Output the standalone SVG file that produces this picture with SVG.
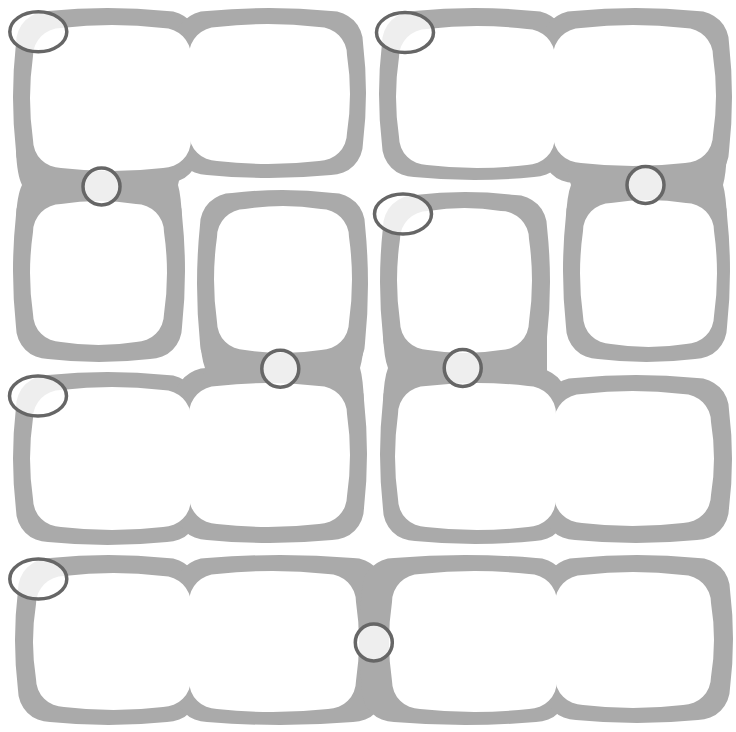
<svg xmlns="http://www.w3.org/2000/svg" width="736" height="732" viewBox="0 0 736 732">
<style>
.wall{fill:#aaaaaa}
.room{fill:#ffffff}
.mark{fill:#ffffff;fill-opacity:0.8;stroke:#666666;stroke-width:3.5}
</style>
<rect width="736" height="732" fill="#ffffff"/>
<g id="piece1">
<path class="wall" transform="translate(16,11)" d="M32 0q59.5 -6 119 0a32 32 0 0 1 32 32q6 54 0 108a32 32 0 0 1 -32 32q-59.5 6 -119 0a32 32 0 0 1 -32 -32q-6 -54 0 -108a32 32 0 0 1 32 -32z"/>
<path class="wall" transform="translate(175,11)" d="M32 0q62 -6 124 0a32 32 0 0 1 32 32q6 50 0 100a32 32 0 0 1 -32 32q-62 6 -124 0a32 32 0 0 1 -32 -32q-6 -50 0 -100a32 32 0 0 1 32 -32z"/>
<path class="wall" transform="translate(16,183)" d="M32 0q51 -6 102 0a32 32 0 0 1 32 32q6 56 0 112a32 32 0 0 1 -32 32q-51 6 -102 0a32 32 0 0 1 -32 -32q-6 -56 0 -112a32 32 0 0 1 32 -32z"/>
<path class="wall" d="M16 151Q17 175 22 185Q17 195 16 219L182 219Q181 195 178 185Q181 175 182 151Z"/>
<path class="room" transform="translate(33,28)" d="M28 0q51 -6 102 0a28 28 0 0 1 28 28q6 42 0 84a28 28 0 0 1 -28 28q-51 6 -102 0a28 28 0 0 1 -28 -28q-6 -42 0 -84a28 28 0 0 1 28 -28z"/>
<path class="room" transform="translate(189,27)" d="M28 0q51 -6 102 0a28 28 0 0 1 28 28q6 39 0 78a28 28 0 0 1 -28 28q-51 6 -102 0a28 28 0 0 1 -28 -28q-6 -39 0 -78a28 28 0 0 1 28 -28z"/>
<path class="room" transform="translate(33,204)" d="M28 0q37.5 -6 75 0a28 28 0 0 1 28 28q6 41 0 82a28 28 0 0 1 -28 28q-37.5 6 -75 0a28 28 0 0 1 -28 -28q-6 -41 0 -82a28 28 0 0 1 28 -28z"/>
</g>
<g id="piece2">
<path class="wall" transform="translate(382,11)" d="M32 0q60 -6 120 0a32 32 0 0 1 32 32q6 51 0 102a32 32 0 0 1 -32 32q-60 6 -120 0a32 32 0 0 1 -32 -32q-6 -51 0 -102a32 32 0 0 1 32 -32z"/>
<path class="wall" transform="translate(542,11)" d="M32 0q61.5 -6 123 0a32 32 0 0 1 32 32q6 54 0 108a32 32 0 0 1 -32 32q-61.5 6 -123 0a32 32 0 0 1 -32 -32q-6 -54 0 -108a32 32 0 0 1 32 -32z"/>
<path class="wall" transform="translate(566,183)" d="M32 0q48.5 -6 97 0a32 32 0 0 1 32 32q6 56 0 112a32 32 0 0 1 -32 32q-48.5 6 -97 0a32 32 0 0 1 -32 -32q-6 -56 0 -112a32 32 0 0 1 32 -32z"/>
<path class="wall" d="M566 151Q567 175 571 185Q567 195 566 219L727 219Q726 195 723 185Q726 175 727 151Z"/>
<path class="room" transform="translate(399,29)" d="M28 0q50 -6 100 0a28 28 0 0 1 28 28q6 40 0 80a28 28 0 0 1 -28 28q-50 6 -100 0a28 28 0 0 1 -28 -28q-6 -40 0 -80a28 28 0 0 1 28 -28z"/>
<path class="room" transform="translate(553,28)" d="M28 0q52 -6 104 0a28 28 0 0 1 28 28q6 39.5 0 79a28 28 0 0 1 -28 28q-52 6 -104 0a28 28 0 0 1 -28 -28q-6 -39.5 0 -79a28 28 0 0 1 28 -28z"/>
<path class="room" transform="translate(583,203)" d="M28 0q37.5 -6 75 0a28 28 0 0 1 28 28q6 42.5 0 85a28 28 0 0 1 -28 28q-37.5 6 -75 0a28 28 0 0 1 -28 -28q-6 -42.5 0 -85a28 28 0 0 1 28 -28z"/>
</g>
<g id="piece3">
<path class="wall" transform="translate(383,195)" d="M32 0q50 -6 100 0a32 32 0 0 1 32 32q6 55 0 110a32 32 0 0 1 -32 32q-50 6 -100 0a32 32 0 0 1 -32 -32q-6 -55 0 -110a32 32 0 0 1 32 -32z"/>
<path class="wall" transform="translate(383,368)" d="M32 0q60 -6 120 0a32 32 0 0 1 32 32q6 54.5 0 109a32 32 0 0 1 -32 32q-60 6 -120 0a32 32 0 0 1 -32 -32q-6 -54.5 0 -109a32 32 0 0 1 32 -32z"/>
<path class="wall" transform="translate(543,378)" d="M32 0q61 -6 122 0a32 32 0 0 1 32 32q6 49 0 98a32 32 0 0 1 -32 32q-61 6 -122 0a32 32 0 0 1 -32 -32q-6 -49 0 -98a32 32 0 0 1 32 -32z"/>
<path class="wall" d="M383 334Q384 358 388 368Q384 378 383 402L547 402L547 334Z"/>
<path class="room" transform="translate(400,211)" d="M28 0q36.5 -6 73 0a28 28 0 0 1 28 28q6 41.5 0 83a28 28 0 0 1 -28 28q-36.5 6 -73 0a28 28 0 0 1 -28 -28q-6 -41.5 0 -83a28 28 0 0 1 28 -28z"/>
<path class="room" transform="translate(398,386)" d="M28 0q51 -6 102 0a28 28 0 0 1 28 28q6 42.5 0 85a28 28 0 0 1 -28 28q-51 6 -102 0a28 28 0 0 1 -28 -28q-6 -42.5 0 -85a28 28 0 0 1 28 -28z"/>
<path class="room" transform="translate(554,394)" d="M28 0q50.5 -6 101 0a28 28 0 0 1 28 28q6 36.5 0 73a28 28 0 0 1 -28 28q-50.5 6 -101 0a28 28 0 0 1 -28 -28q-6 -36.5 0 -73a28 28 0 0 1 28 -28z"/>
</g>
<g id="piece4">
<path class="wall" transform="translate(200,193)" d="M32 0q50.5 -6 101 0a32 32 0 0 1 32 32q6 59 0 118a32 32 0 0 1 -32 32q-50.5 6 -101 0a32 32 0 0 1 -32 -32q-6 -59 0 -118a32 32 0 0 1 32 -32z"/>
<path class="wall" transform="translate(16,375)" d="M32 0q59.5 -6 119 0a32 32 0 0 1 32 32q6 51.5 0 103a32 32 0 0 1 -32 32q-59.5 6 -119 0a32 32 0 0 1 -32 -32q-6 -51.5 0 -103a32 32 0 0 1 32 -32z"/>
<path class="wall" transform="translate(175,368)" d="M32 0q62.5 -6 125 0a32 32 0 0 1 32 32q6 54 0 108a32 32 0 0 1 -32 32q-62.5 6 -125 0a32 32 0 0 1 -32 -32q-6 -54 0 -108a32 32 0 0 1 32 -32z"/>
<path class="wall" d="M200 334Q201 358 205 368Q201 378 200 402L364 402Q363 378 360 368Q363 358 365 334Z"/>
<path class="room" transform="translate(217,209)" d="M28 0q38 -6 76 0a28 28 0 0 1 28 28q6 42.5 0 85a28 28 0 0 1 -28 28q-38 6 -76 0a28 28 0 0 1 -28 -28q-6 -42.5 0 -85a28 28 0 0 1 28 -28z"/>
<path class="room" transform="translate(33,390)" d="M28 0q51 -6 102 0a28 28 0 0 1 28 28q6 40.5 0 81a28 28 0 0 1 -28 28q-51 6 -102 0a28 28 0 0 1 -28 -28q-6 -40.5 0 -81a28 28 0 0 1 28 -28z"/>
<path class="room" transform="translate(189,386)" d="M28 0q51 -6 102 0a28 28 0 0 1 28 28q6 41 0 82a28 28 0 0 1 -28 28q-51 6 -102 0a28 28 0 0 1 -28 -28q-6 -41 0 -82a28 28 0 0 1 28 -28z"/>
</g>
<g id="piece5">
<path class="wall" transform="translate(18,558)" d="M32 0q58.5 -6 117 0a32 32 0 0 1 32 32q6 50 0 100a32 32 0 0 1 -32 32q-58.5 6 -117 0a32 32 0 0 1 -32 -32q-6 -50 0 -100a32 32 0 0 1 32 -32z"/>
<path class="wall" transform="translate(175,558)" d="M32 0q73 -6 146 0a32 32 0 0 1 32 32q6 50 0 100a32 32 0 0 1 -32 32q-73 6 -146 0a32 32 0 0 1 -32 -32q-6 -50 0 -100a32 32 0 0 1 32 -32z"/>
<path class="wall" transform="translate(362,558)" d="M32 0q71 -6 142 0a32 32 0 0 1 32 32q6 50 0 100a32 32 0 0 1 -32 32q-71 6 -142 0a32 32 0 0 1 -32 -32q-6 -50 0 -100a32 32 0 0 1 32 -32z"/>
<path class="wall" transform="translate(544,558)" d="M32 0q61 -6 122 0a32 32 0 0 1 32 32q6 49 0 98a32 32 0 0 1 -32 32q-61 6 -122 0a32 32 0 0 1 -32 -32q-6 -49 0 -98a32 32 0 0 1 32 -32z"/>
<path class="room" transform="translate(36,576)" d="M28 0q49.5 -6 99 0a28 28 0 0 1 28 28q6 37.5 0 75a28 28 0 0 1 -28 28q-49.5 6 -99 0a28 28 0 0 1 -28 -28q-6 -37.5 0 -75a28 28 0 0 1 28 -28z"/>
<path class="room" transform="translate(189,574)" d="M28 0q55.5 -6 111 0a28 28 0 0 1 28 28q6 39.5 0 79a28 28 0 0 1 -28 28q-55.5 6 -111 0a28 28 0 0 1 -28 -28q-6 -39.5 0 -79a28 28 0 0 1 28 -28z"/>
<path class="room" transform="translate(392,574)" d="M28 0q54.5 -6 109 0a28 28 0 0 1 28 28q6 39.5 0 79a28 28 0 0 1 -28 28q-54.5 6 -109 0a28 28 0 0 1 -28 -28q-6 -39.5 0 -79a28 28 0 0 1 28 -28z"/>
<path class="room" transform="translate(555,575)" d="M28 0q50 -6 100 0a28 28 0 0 1 28 28q6 37 0 74a28 28 0 0 1 -28 28q-50 6 -100 0a28 28 0 0 1 -28 -28q-6 -37 0 -74a28 28 0 0 1 28 -28z"/>
</g>
<g id="markers">
<ellipse class="mark" cx="38.3" cy="31.7" rx="28.5" ry="20"/>
<ellipse class="mark" cx="405" cy="32.5" rx="28.5" ry="20"/>
<ellipse class="mark" cx="403" cy="214" rx="28.5" ry="20"/>
<ellipse class="mark" cx="38" cy="396" rx="28.5" ry="20"/>
<ellipse class="mark" cx="38.3" cy="579" rx="28.5" ry="20"/>
<circle class="mark" cx="101.5" cy="186.5" r="18.5"/>
<circle class="mark" cx="645.5" cy="185" r="18.5"/>
<circle class="mark" cx="462.7" cy="368" r="18.5"/>
<circle class="mark" cx="280.3" cy="368.7" r="18.5"/>
<circle class="mark" cx="373.8" cy="642.5" r="18.5"/>
</g>
</svg>
